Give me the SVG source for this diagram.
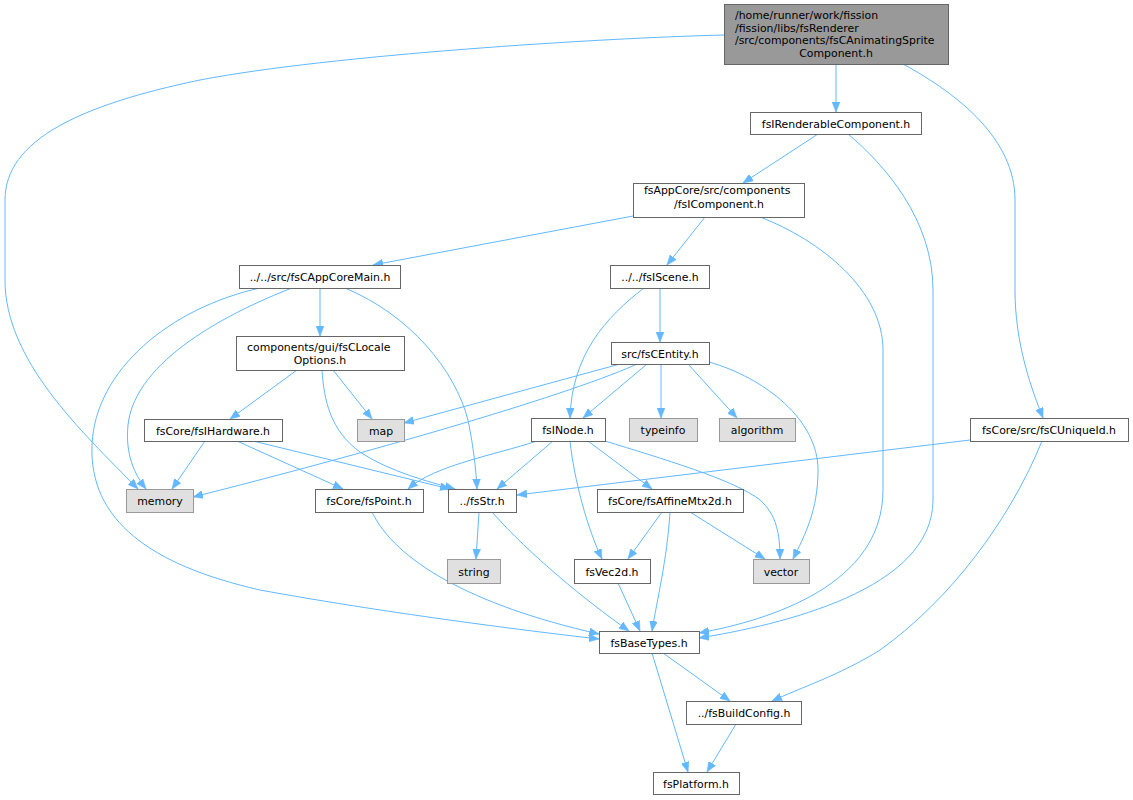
<svg xmlns="http://www.w3.org/2000/svg" width="1133" height="800" viewBox="0 0 1133 800">
<style>
.n{fill:#ffffff;stroke:#666666;stroke-width:1}
.g{fill:#e0e0e0;stroke:#999999;stroke-width:1}
.r{fill:#999999;stroke:#666666;stroke-width:1}
text{font-family:"DejaVu Sans","Liberation Sans",sans-serif;font-size:10.9px;fill:#000000;text-anchor:middle}
text.l{text-anchor:start}
#edges path{fill:none;stroke:#63b8ff;stroke-width:1;marker-end:url(#ah)}
</style>
<defs>
<marker id="ah" markerUnits="userSpaceOnUse" markerWidth="11" markerHeight="8" refX="10" refY="4" orient="auto" viewBox="0 0 11 8">
<path d="M0,0 L10,4 L0,8 z" fill="#63b8ff" stroke="#63b8ff" stroke-width="0.5"/>
</marker>
</defs>
<rect width="1133" height="800" fill="#ffffff"/>
<g id="edges">
<path d="M724,35 C600,38 330,55 200,80 C80,105 5,140 5,200 L5,280 C5,360 80,430 138,489"/>
<path d="M836,64 L836,112"/>
<path d="M903,64 C960,95 1015,140 1015,200 L1015,290 C1015,345 1032,390 1043,418"/>
<path d="M818,134 L743,183"/>
<path d="M848,134 C885,165 933,220 933,290 L933,500 C933,590 780,625 699,638"/>
<path d="M633,216 L373,265"/>
<path d="M705,217 L667,265"/>
<path d="M760,217 C820,240 883,290 883,350 L883,490 C883,585 770,620 699,633"/>
<path d="M320,288 L320,336"/>
<path d="M345,288 C410,315 455,370 468,420 C474,450 476,470 477,489"/>
<path d="M292,288 C230,312 135,360 128,425 C125,455 135,475 146,489"/>
<path d="M260,288 C170,308 95,370 92,445 C89,520 150,565 260,590 C380,612 520,630 599,639"/>
<path d="M660,288 L660,342"/>
<path d="M644,288 C605,318 572,355 570,418"/>
<path d="M297,370 L230,419"/>
<path d="M333,370 L372,419"/>
<path d="M322,370 C324,400 330,430 360,452 C390,472 430,482 455,489"/>
<path d="M620,364 L404,423"/>
<path d="M635,365 C560,398 360,455 193,497"/>
<path d="M647,364 L583,418"/>
<path d="M661,364 L661,418"/>
<path d="M688,364 L737,418"/>
<path d="M709,362 C765,378 818,420 818,470 C818,510 805,535 793,559"/>
<path d="M205,441 L172,489"/>
<path d="M237,441 L343,489"/>
<path d="M253,441 L450,489"/>
<path d="M537,441 C495,455 435,465 408,489"/>
<path d="M553,441 L497,489"/>
<path d="M570,441 C574,480 588,530 602,559"/>
<path d="M588,441 L652,489"/>
<path d="M605,441 C660,458 735,480 760,500 C777,515 780,535 780,559"/>
<path d="M970,440 L517,495"/>
<path d="M1042,441 C1010,520 950,600 880,650 C840,675 800,688 772,701"/>
<path d="M372,512 C395,560 470,605 599,634"/>
<path d="M479,512 L476,559"/>
<path d="M492,512 C530,555 585,600 629,631"/>
<path d="M662,512 L628,559"/>
<path d="M670,512 C667,560 657,600 652,631"/>
<path d="M690,512 L765,559"/>
<path d="M618,583 L640,631"/>
<path d="M663,653 L730,701"/>
<path d="M652,653 L688,772"/>
<path d="M736,724 L707,772"/>
</g>
<g id="node-top"><rect class="r" x="724.5" y="4.5" width="224" height="60"/>
<text class="l" x="735" y="19">/home/runner/work/fission</text>
<text class="l" x="735" y="31.5">/fission/libs/fsRenderer</text>
<text class="l" x="735" y="44">/src/components/fsCAnimatingSprite</text>
<text x="836" y="56.5">Component.h</text></g>
<g id="node-rend"><rect class="n" x="750.5" y="112.5" width="171" height="22"/><text x="836" y="127.5">fsIRenderableComponent.h</text></g>
<g id="node-icomp"><rect class="n" x="633.5" y="183.5" width="171" height="34"/>
<text class="l" x="644" y="194">fsAppCore/src/components</text>
<text x="719" y="207.5">/fsIComponent.h</text></g>
<g id="node-appmain"><rect class="n" x="239.5" y="265.5" width="161" height="23"/><text x="320" y="281">../../src/fsCAppCoreMain.h</text></g>
<g id="node-scene"><rect class="n" x="610.5" y="265.5" width="99" height="23"/><text x="660" y="281">../../fsIScene.h</text></g>
<g id="node-locale"><rect class="n" x="236.5" y="336.5" width="168" height="34"/>
<text class="l" x="247" y="350.5">components/gui/fsCLocale</text>
<text x="320" y="363.5">Options.h</text></g>
<g id="node-entity"><rect class="n" x="611.5" y="342.5" width="98" height="22"/><text x="660" y="357.5">src/fsCEntity.h</text></g>
<g id="node-hardware"><rect class="n" x="144.5" y="419.5" width="138" height="22"/><text x="213" y="434.5">fsCore/fsIHardware.h</text></g>
<g id="node-map"><rect class="g" x="357.5" y="419.5" width="47" height="22"/><text x="381" y="434.5">map</text></g>
<g id="node-inode"><rect class="n" x="531.5" y="418.5" width="74" height="23"/><text x="568" y="434">fsINode.h</text></g>
<g id="node-typeinfo"><rect class="g" x="629.5" y="418.5" width="68" height="23"/><text x="663" y="434">typeinfo</text></g>
<g id="node-algorithm"><rect class="g" x="719.5" y="418.5" width="76" height="23"/><text x="757" y="434">algorithm</text></g>
<g id="node-uniqueid"><rect class="n" x="970.5" y="418.5" width="158" height="23"/><text x="1049" y="434">fsCore/src/fsCUniqueId.h</text></g>
<g id="node-memory"><rect class="g" x="126.5" y="489.5" width="67" height="23"/><text x="160" y="505">memory</text></g>
<g id="node-point"><rect class="n" x="315.5" y="489.5" width="108" height="23"/><text x="369" y="505">fsCore/fsPoint.h</text></g>
<g id="node-str"><rect class="n" x="448.5" y="489.5" width="68" height="23"/><text x="482" y="505">../fsStr.h</text></g>
<g id="node-affine"><rect class="n" x="597.5" y="489.5" width="146" height="23"/><text x="670" y="505">fsCore/fsAffineMtx2d.h</text></g>
<g id="node-string"><rect class="g" x="447.5" y="559.5" width="53" height="24"/><text x="474" y="575.5">string</text></g>
<g id="node-vec2d"><rect class="n" x="574.5" y="559.5" width="76" height="24"/><text x="612" y="575.5">fsVec2d.h</text></g>
<g id="node-vector"><rect class="g" x="753.5" y="559.5" width="56" height="24"/><text x="781" y="575.5">vector</text></g>
<g id="node-basetypes"><rect class="n" x="599.5" y="631.5" width="100" height="22"/><text x="649" y="646.5">fsBaseTypes.h</text></g>
<g id="node-buildconfig"><rect class="n" x="686.5" y="701.5" width="115" height="23"/><text x="744" y="717">../fsBuildConfig.h</text></g>
<g id="node-platform"><rect class="n" x="653.5" y="772.5" width="86" height="22"/><text x="696" y="787.5">fsPlatform.h</text></g>
</svg>
